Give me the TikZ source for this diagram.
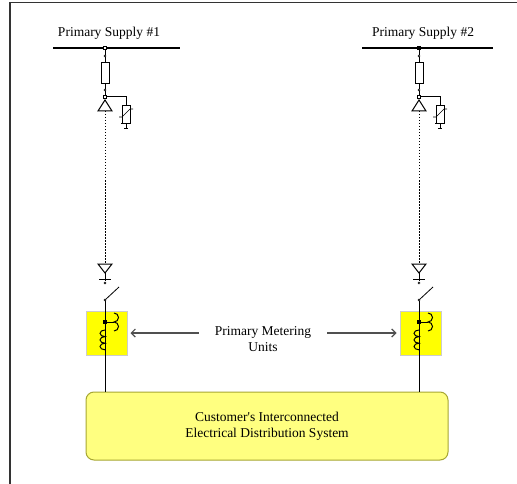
\documentclass[tikz,border=0pt]{standalone}
\usepackage{fontspec}
\setmainfont{Liberation Serif}
\usetikzlibrary{positioning, arrows.meta}

\definecolor{meteryellow}{HTML}{FFFF00}
\definecolor{sysyellow}{HTML}{FFFF80}
\definecolor{sysedge}{HTML}{A6A632}
\definecolor{pointergray}{HTML}{505050}

\tikzset{
  wire/.style={line width=1pt},
  busbar/.style={line width=1.4pt},
  cable/.style={line width=1pt, dash pattern=on 1.5pt off 1.5pt},
  fusebox/.style={draw, fill=white, line width=0.8pt, minimum width=8pt, minimum height=21pt, inner sep=0pt},
  arrester/.style={draw, fill=white, line width=0.8pt, minimum width=8pt, minimum height=18pt, inner sep=0pt},
  meterbox/.style={draw=black!20, fill=meteryellow, line width=1pt, minimum width=41pt, minimum height=44pt, inner sep=0pt},
  sysbox/.style={draw=sysedge, fill=sysyellow, line width=1pt, rounded corners=8pt, minimum width=362pt, minimum height=68pt, align=center, font=\fontsize{13.5}{16}\selectfont},
  supply/.style={font=\fontsize{13.5}{16}\selectfont, inner sep=0pt},
  note/.style={align=center, font=\fontsize{13.5}{16}\selectfont, inner xsep=16pt, inner ysep=0pt},
  tapdot/.style={draw, line width=0.6pt, minimum size=3pt, inner sep=0pt},
  termdot/.style={circle, draw, fill=white, line width=0.5pt, minimum size=2.2pt, inner sep=0pt},
  pointer/.style={draw=pointergray, line width=1.2pt, shorten >=3pt, -{Straight Barb[length=4pt, width=8pt]}},
}

\begin{document}
\begin{tikzpicture}[x=1pt, y=-1pt]
    \useasboundingbox (0,0) rectangle (517,484);
    \draw[line width=1.5pt, black!80] (10,484) -- (10,2.5) -- (517,2.5);

    \node[sysbox] (sys) at (267,426) {Customer\textquotesingle s Interconnected\\Electrical Distribution System};

    \foreach \i/\x/\c/\l/\r in {1/105/white/52/75, 2/419/black/57/74} {
        % supply bus and tap
        \coordinate (busL\i) at (\x-\l,48);
        \coordinate (busR\i) at (\x+\r,48);
        \draw[busbar] (busL\i) -- (busR\i);
        \node[supply] (supply\i) at (\x+4,33) {Primary Supply \#\i};
        \coordinate (tap\i) at (\x,48);

        % fuse
        \node[fusebox] (fuse\i) at (\x,73) {};
        \node[termdot] (fuseA\i) at (\x,56) {};
        \node[termdot] (fuseB\i) at (\x,90) {};
        \node[tapdot] (jct\i) at (\x,97) {};
        \draw[wire] (tap\i) -- (fuseA\i) -- (fuse\i.north);
        \draw[wire] (fuse\i.south) -- (fuseB\i) -- (jct\i);
        \node[tapdot, fill=\c] at (tap\i) {};

        % surge arrester
        \node[arrester] (arr\i) at (\x+21,114) {};
        \draw[wire] (jct\i) -| (arr\i.north);
        \draw[line width=0.7pt] (\x+14,117) -- (\x+17,117) -- (\x+25,109) -- (\x+28,109);
        \draw[wire] (arr\i.south) -- (\x+21,128);
        \draw[wire] (\x+16,124) -- (\x+26,124);
        \draw[line width=0.7pt] (\x+19,128) -- (\x+23,128);

        % cable terminations
        \coordinate (headA\i) at (\x,111);
        \coordinate (headB\i) at (\x,264);
        \draw[wire, fill=white] (\x,100) -- (\x-7,111) -- (\x+7,111) -- cycle;
        \draw[cable] (headA\i) -- (headB\i);
        \draw[wire, fill=white] (\x-7,264) -- (\x+7,264) -- (\x,273) -- cycle;
        \draw[wire] (\x,273) -- (\x,281);
        \draw[wire] (\x-6,279) -- (\x+6,279);
        \node[termdot] (contact\i) at (\x,283) {};

        % switch
        \coordinate (pivot\i) at (\x,300);
        \draw[line width=0.8pt] (pivot\i) -- ++(14,-13);

        % metering unit
        \node[meterbox] (meter\i) at (\x+1.5,333) {};
        \draw[wire] (pivot\i) -- (pivot\i |- sys.north);
        \node[termdot] at (pivot\i) {};
        \node[tapdot, fill=black] (ct\i) at (\x,322) {};
        \draw[wire] (ct\i) -- (\x+9,322);
        \draw[wire] (\x+9,313) arc[start angle=-90, end angle=90, radius=4.5]
            arc[start angle=-90, end angle=90, radius=4.5];
        \draw[wire] (\x,330) arc[start angle=-90, end angle=-270, x radius=5, y radius=3.3]
            arc[start angle=-90, end angle=-270, x radius=5, y radius=3.3]
            arc[start angle=-90, end angle=-270, x radius=5, y radius=3.3];
    }

    \node[note] (note) at (263,339) {Primary Metering\\Units};
    \draw[pointer] (note.west |- meter1.east) -- (meter1.east);
    \draw[pointer] (note.east |- meter2.west) -- (meter2.west);
\end{tikzpicture}
\end{document}
